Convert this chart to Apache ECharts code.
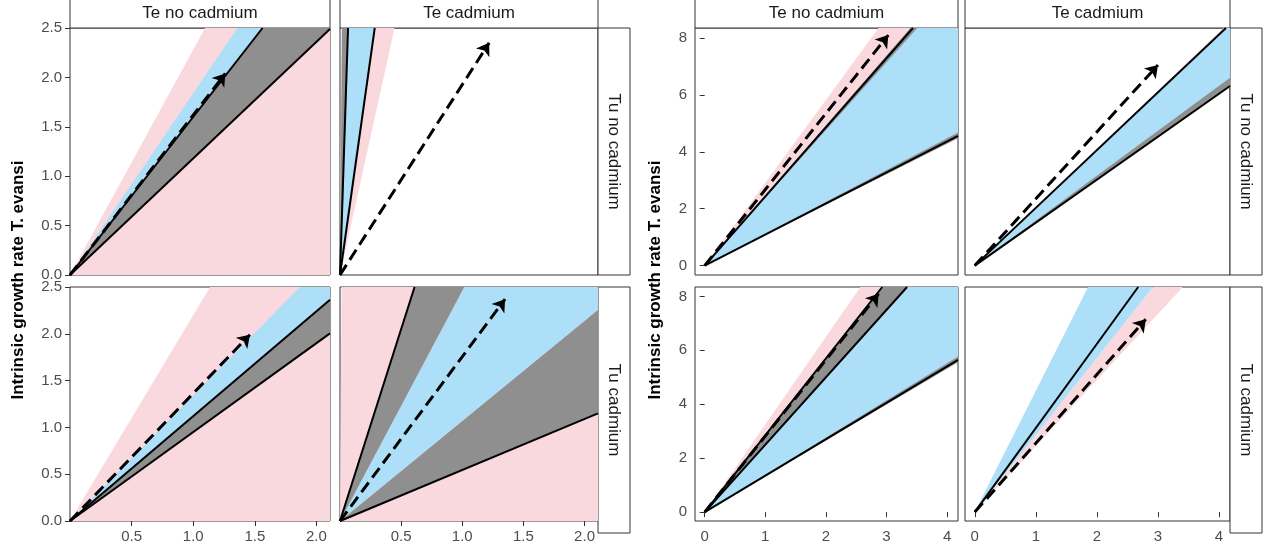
<!DOCTYPE html>
<html><head><meta charset="utf-8">
<script src="https://cdn.jsdelivr.net/npm/echarts@6/dist/echarts.min.js"></script>
<style>html,body{margin:0;padding:0;background:#fff}#c{width:1280px;height:544px}</style>
</head><body><div id="c"></div>
<script>
const colLabels = ['Te no cadmium','Te cadmium'];
const rowLabels = ['Tu no cadmium','Tu cadmium'];
const yTitle = 'Intrinsic growth rate T. evansi';
const leftYTicks = [0,0.5,1.0,1.5,2.0,2.5];
const leftXTicks = [0.5,1.0,1.5,2.0];
const rightYTicks = [0,2,4,6,8];
const rightXTicks = [0,1,2,3,4];
// wedges: [lowSlope, highSlope, colour key]; edges: slopes of black lines; arrows: [x,y]
const wedges = [
  [[0,2.28,'pink'],[1.60,1.84,'blue'],[1.18,1.60,'gray']],
  [[5.6,200,'pink'],[8.8,38,'blue'],[38,156,'gray']],
  [[0,2.2,'pink'],[1.12,1.34,'blue'],[0.95,1.12,'gray']],
  [[0,200,'pink'],[0.545,1.07,'gray'],[1.07,2.46,'blue'],[2.46,4.1,'gray']],
  [[2.43,2.91,'pink'],[1.09,2.43,'blue'],[2.38,2.46,'gray'],[1.07,1.12,'gray']],
  [[1.50,2.05,'pink'],[1.56,2.03,'blue'],[1.51,1.58,'gray']],
  [[2.5,3.25,'pink'],[1.36,2.55,'blue'],[2.5,2.85,'gray'],[1.33,1.38,'gray']],
  [[2.45,2.86,'pink'],[2.86,4.5,'blue']]
];
const edges = [[1.60,1.18],[38,8.8],[1.12,0.95],[4.1,0.545],[2.43,1.09],[2.03,1.51],[2.85,2.5,1.35],[3.12]];
const arrows = [[1.26,2.04],[1.22,2.35],[1.46,1.99],[1.35,2.37],[3.03,8.1],[3.0,7.05],[2.87,8.1],[2.8,7.15]];
const colours = {pink:'#f9d9de',blue:'#aedff8',gray:'#8f8f8f'};

const boxes = [
  {l:70,t:28,w:260,h:247},{l:340,t:28,w:258,h:247},
  {l:70,t:287,w:260,h:246},{l:340,t:287,w:258,h:246},
  {l:695,t:28,w:263,h:247},{l:965,t:28,w:265,h:247},
  {l:695,t:287,w:263,h:246},{l:965,t:287,w:265,h:246}
];
const ranges = i => i<4 ? {x0:0,x1:2.11,y0:0,y1:2.5} : {x0:-0.16,x1:4.18,y0:-0.33,y1:8.35};

const grid=[],xAxis=[],yAxis=[],series=[];
boxes.forEach((b,i)=>{
  const r=ranges(i), left=i<4, firstCol=(i%2===0), bottom=(i%4>=2);
  grid.push({left:b.l,top:b.t,width:b.w,height:b.h,show:true,borderColor:'#333',borderWidth:1,backgroundColor:'#fff'});
  xAxis.push({type:'value',gridIndex:i,min:r.x0,max:r.x1,splitLine:{show:false},axisLine:{show:false},
    axisTick:{show:bottom,customValues:left?leftXTicks:rightXTicks,lineStyle:{color:'#333'}},
    axisLabel:{show:bottom,customValues:left?leftXTicks:rightXTicks,color:'#4d4d4d',fontSize:15,fontFamily:'Liberation Sans',formatter:v=>left?v.toFixed(1):String(v)}});
  yAxis.push({type:'value',gridIndex:i,min:r.y0,max:r.y1,splitLine:{show:false},axisLine:{show:false},
    axisTick:{show:firstCol,customValues:left?leftYTicks:rightYTicks,lineStyle:{color:'#333'}},
    axisLabel:{show:firstCol,customValues:left?leftYTicks:rightYTicks,color:'#4d4d4d',fontSize:15,fontFamily:'Liberation Sans',formatter:v=>left?v.toFixed(1):String(v)}});
  const end=(s)=> (r.y1/s < r.x1) ? [r.y1/s, r.y1] : [r.x1, r.x1*s];
  series.push({type:'custom',xAxisIndex:i,yAxisIndex:i,clip:true,silent:true,
    data:wedges[i].map(w=>[w[0],w[1]]),
    renderItem:(p,api)=>{
      const w=wedges[i][p.dataIndex];
      const a=end(w[0]), c=end(w[1]);
      const pts=[[0,0],a];
      if(a[0]===r.x1 && c[1]===r.y1 && c[0]!==r.x1) pts.push([r.x1,r.y1]);
      pts.push(c);
      return {type:'polygon',shape:{points:pts.map(q=>api.coord(q))},style:{fill:colours[w[2]]}};
    }});
  series.push({type:'lines',coordinateSystem:'cartesian2d',xAxisIndex:i,yAxisIndex:i,silent:true,
    lineStyle:{color:'#000',width:2,opacity:1},
    data:edges[i].map(s=>({coords:[[0,0],end(s)]}))});
  series.push({type:'lines',coordinateSystem:'cartesian2d',xAxisIndex:i,yAxisIndex:i,silent:true,
    symbol:['none','arrow'],symbolSize:12,
    lineStyle:{color:'#000',width:3,type:'dashed',opacity:1},
    data:[{coords:[[0,0],arrows[i]]}]});
});

const graphic=[];
const strip=(x,y,w,h,text,rot)=>{
  graphic.push({type:'rect',shape:{x:x,y:y,width:w,height:h},style:{fill:'#fff',stroke:'#333',lineWidth:1}});
  graphic.push({type:'text',x:x+w/2,y:y+h/2,rotation:rot||0,style:{text:text,fill:'#1a1a1a',fontSize:17,fontFamily:'Liberation Sans',align:'center',verticalAlign:'middle'}});
};
[[70,260],[340,258],[695,263],[965,265]].forEach((c,k)=>strip(c[0],-1,c[1],29,colLabels[k%2]));
[[598,28,247],[598,287,246],[1230,28,247],[1230,287,246]].forEach((c,k)=>strip(c[0],c[1],32,c[2],rowLabels[k%2],-Math.PI/2));
[[18,280],[655,280]].forEach(p=>graphic.push({type:'text',x:p[0],y:p[1],rotation:Math.PI/2,style:{text:yTitle,fill:'#000',fontSize:17,fontWeight:'bold',fontFamily:'Liberation Sans',align:'center',verticalAlign:'middle'}}));

const chart=echarts.init(document.getElementById('c'),null,{renderer:'canvas'});
chart.setOption({animation:false,grid,xAxis,yAxis,series,graphic});
</script></body></html>
